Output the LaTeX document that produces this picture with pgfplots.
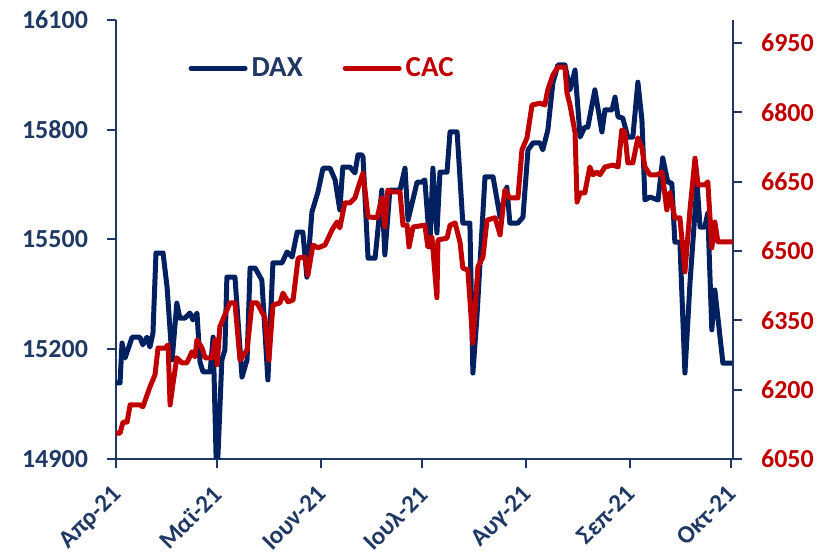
\documentclass[border=0pt]{standalone}
\usepackage{pgfplots}
\pgfplotsset{compat=1.18}
\usepackage{pgfplotstable}
\usepackage{fontspec}
\setmainfont{Carlito}
\definecolor{daxcol}{RGB}{0,32,96}
\definecolor{axcol}{RGB}{31,56,100}
\definecolor{caccol}{RGB}{192,0,0}

\pgfplotstableread{
day val
0 15108
1.2 15108
1.8 15217
2.7 15176
4.8 15233
7.1 15233
8.0 15212
9.2 15233
10.1 15206
11.0 15244
11.9 15463
14.0 15463
15.2 15370
16.7 15171
18.1 15326
19.0 15285
20.5 15285
22.0 15299
22.9 15280
24.1 15299
25.0 15165
25.9 15138
28.0 15138
28.9 15233
29.8 14900
30.3 14900
31.5 15171
32.4 15198
33.0 15397
35.4 15397
37.5 15124
39.0 15171
39.9 15422
41.4 15422
43.4 15389
45.2 15116
46.7 15436
49.4 15436
50.9 15466
52.4 15452
53.9 15520
55.6 15520
56.8 15397
58.3 15575
60.1 15630
61.6 15695
63.7 15695
65.2 15663
66.6 15581
67.5 15698
69.6 15698
71.1 15682
72.0 15731
73.2 15731
73.5 15725
75.0 15449
77.1 15449
79.1 15635
80.0 15458
81.5 15635
84.5 15635
86.0 15695
86.9 15553
89.6 15657
91.0 15657
91.9 15663
93.4 15480
94.3 15695
95.5 15518
96.4 15684
98.5 15684
99.4 15794
101.5 15794
103.2 15545
105.3 15545
106.2 15135
107.4 15288
109.8 15671
112.2 15671
114.3 15561
116.3 15643
117.2 15545
119.6 15545
121.1 15561
122.6 15745
124.1 15764
126.2 15764
127.0 15745
128.5 15799
130.0 15928
131.5 15977
133.6 15977
135.1 15909
136.6 15963
138.1 15780
139.5 15807
140.4 15807
142.5 15909
144.6 15794
145.5 15854
147.6 15854
148.5 15889
149.4 15835
150.8 15832
152.3 15780
153.8 15780
155.3 15930
156.5 15827
157.4 15608
158.9 15616
161.3 15608
162.7 15723
164.2 15657
165.4 15654
166.3 15493
167.8 15493
169.3 15135
170.8 15381
172.9 15654
173.8 15534
175.2 15534
176.1 15572
177.3 15253
178.2 15362
180.6 15162
183.6 15162
}\daxtable

\pgfplotstableread{
day val
0 6106
1.2 6106
2.1 6130
3.3 6130
4.2 6167
7.1 6167
8.0 6163
10.1 6206
11.6 6232
12.5 6290
14.6 6290
15.5 6297
16.1 6167
17.0 6215
18.1 6269
19.6 6258
21.1 6258
22.6 6282
23.5 6271
24.1 6308
25.6 6290
26.5 6269
28.6 6269
29.5 6308
30.1 6254
30.9 6336
32.4 6362
33.9 6388
35.4 6388
36.9 6264
39.0 6286
40.5 6388
42.0 6388
43.4 6368
44.3 6357
45.5 6264
46.7 6383
48.8 6388
49.7 6409
51.2 6390
52.7 6394
54.2 6485
56.2 6487
57.1 6448
58.6 6513
60.1 6507
62.2 6513
64.3 6546
65.8 6563
66.6 6550
68.1 6604
69.6 6604
71.1 6615
72.6 6650
73.5 6669
75.0 6574
77.7 6572
79.1 6615
80.0 6552
80.9 6632
82.1 6628
84.5 6628
85.4 6556
86.6 6556
87.2 6509
88.4 6552
91.9 6556
92.8 6509
94.0 6531
95.5 6399
95.8 6524
98.5 6528
99.4 6556
100.9 6561
102.4 6518
103.2 6463
104.7 6459
106.2 6301
107.7 6466
109.2 6487
110.4 6567
112.8 6572
114.3 6535
115.7 6632
117.2 6615
119.6 6615
120.8 6719
122.3 6745
123.8 6816
126.2 6820
127.6 6816
128.5 6849
130.0 6881
131.5 6898
133.6 6898
134.2 6842
135.1 6816
136.6 6756
137.2 6606
138.1 6626
139.5 6626
141.0 6682
141.9 6665
143.1 6671
144.0 6665
145.5 6682
147.9 6686
149.4 6682
150.5 6762
151.4 6758
152.3 6691
153.8 6691
155.3 6745
156.5 6723
157.4 6682
158.9 6665
161.0 6665
162.5 6671
163.9 6589
164.8 6626
166.3 6572
167.8 6572
169.3 6455
170.8 6589
172.3 6701
173.2 6643
175.2 6643
176.1 6650
177.3 6507
178.2 6563
179.1 6520
180.6 6520
183.6 6520
}\cactable

\begin{document}
\begin{tikzpicture}
\useasboundingbox (-58pt,-48.5pt) rectangle (355pt,229.5pt);
\pgfplotsset{
  common/.style={
    scale only axis, width=308.5pt, height=219.5pt,
    xmin=0, xmax=183.6,
    axis line style={axcol, line width=1pt},
    tick style={axcol, line width=1pt},
    tick align=outside,
    major tick length=4.5pt,
    scaled y ticks=false,
    /pgf/number format/assume math mode=true,
    /pgf/number format/1000 sep={},
    tick label style={font=\fontsize{13pt}{15pt}\selectfont\bfseries},
  }
}
\begin{axis}[common,
  ymin=14900, ymax=16100,
  axis x line*=bottom, axis y line*=left,
  xtick={0,30,61,91,122,153,183},
  xticklabels={Απρ-21,Μαϊ-21,Ιουν-21,Ιουλ-21,Αυγ-21,Σεπ-21,Οκτ-21},
  x tick label style={xshift=-2.5pt, yshift=-6.5pt, rotate=45, anchor=north east, text=axcol, inner sep=1pt, font=\fontsize{12.5pt}{14pt}\selectfont\bfseries},
  ytick={14900,15200,15500,15800,16100},
  y tick label style={text=axcol, xshift=-6pt},
]
\addplot[daxcol, line width=2.5pt, line join=round] table[x=day,y=val] {\daxtable};
\end{axis}
\begin{axis}[common,
  ymin=6050, ymax=7000,
  axis x line=none, axis y line*=right,
  ytick={6050,6200,6350,6500,6650,6800,6950},
  y tick label style={text=caccol, xshift=6pt},
  legend columns=2,
  legend style={draw=none, fill=none, at={(0.117,0.89)}, anchor=west, inner sep=0pt,
    font=\fontsize{14.5pt}{16pt}\selectfont\bfseries,
    /tikz/every even column/.append style={column sep=18pt}},
  legend cell align=left,
  legend image code/.code={\draw[#1, line cap=round] (0pt,0pt) -- (27pt,0pt);},
]
\addlegendimage{daxcol, line width=2.5pt}
\addlegendentry{\textcolor{axcol}{DAX}}
\addplot[caccol, line width=2.5pt, line join=round] table[x=day,y=val] {\cactable};
\addlegendentry{\textcolor{caccol}{CAC}}
\end{axis}
\end{tikzpicture}
\end{document}
